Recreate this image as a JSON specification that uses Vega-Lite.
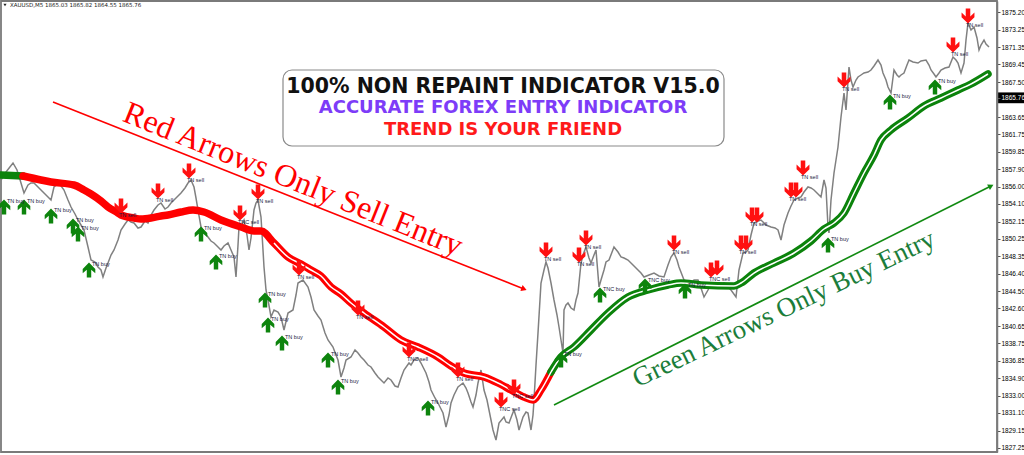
{
  "$schema": "https://vega.github.io/schema/vega-lite/v6.json",
  "width": 996,
  "height": 451,
  "autosize": {"type": "none"},
  "padding": {"left": 1, "top": 1, "right": 27, "bottom": 3},
  "background": "white",
  "config": {"view": {"stroke": "#7a7a7a", "strokeWidth": 1.8}, "font": "Liberation Sans"},
  "datasets": {
    "price": [{"x":0,"p":1856.72},{"x":5,"p":1857.60},{"x":12,"p":1858.59},{"x":16,"p":1857.82},{"x":20,"p":1856.39},{"x":23,"p":1855.29},{"x":27,"p":1856.17},{"x":30,"p":1856.39},{"x":33,"p":1856.39},{"x":38,"p":1855.84},{"x":43,"p":1855.29},{"x":47,"p":1854.85},{"x":50,"p":1854.52},{"x":53,"p":1855.95},{"x":58,"p":1856.39},{"x":63,"p":1855.62},{"x":67,"p":1854.52},{"x":70,"p":1853.75},{"x":74,"p":1852.98},{"x":77,"p":1852.32},{"x":80,"p":1851.77},{"x":83,"p":1851.22},{"x":87,"p":1849.35},{"x":90,"p":1847.92},{"x":94,"p":1847.70},{"x":97,"p":1847.15},{"x":100,"p":1846.82},{"x":102,"p":1846.05},{"x":105,"p":1847.04},{"x":107,"p":1847.59},{"x":110,"p":1848.47},{"x":113,"p":1849.02},{"x":117,"p":1850.12},{"x":120,"p":1851.22},{"x":124,"p":1851.88},{"x":127,"p":1852.32},{"x":130,"p":1852.10},{"x":133,"p":1851.99},{"x":137,"p":1851.44},{"x":140,"p":1851.55},{"x":144,"p":1852.21},{"x":147,"p":1851.99},{"x":150,"p":1852.87},{"x":153,"p":1853.42},{"x":157,"p":1853.97},{"x":160,"p":1854.19},{"x":164,"p":1853.53},{"x":167,"p":1853.75},{"x":170,"p":1854.19},{"x":173,"p":1854.52},{"x":177,"p":1854.96},{"x":180,"p":1855.29},{"x":184,"p":1855.84},{"x":187,"p":1856.39},{"x":190,"p":1856.72},{"x":193,"p":1855.95},{"x":195,"p":1854.74},{"x":197,"p":1853.42},{"x":200,"p":1851.55},{"x":203,"p":1851.00},{"x":207,"p":1850.45},{"x":210,"p":1850.01},{"x":213,"p":1849.79},{"x":217,"p":1849.35},{"x":220,"p":1849.02},{"x":223,"p":1849.46},{"x":227,"p":1849.79},{"x":230,"p":1849.02},{"x":233,"p":1848.25},{"x":235,"p":1846.05},{"x":237,"p":1849.57},{"x":238,"p":1851.55},{"x":241,"p":1851.88},{"x":243,"p":1852.32},{"x":246,"p":1850.67},{"x":248,"p":1849.02},{"x":250,"p":1850.34},{"x":253,"p":1853.42},{"x":255,"p":1854.19},{"x":257,"p":1854.52},{"x":260,"p":1852.65},{"x":262,"p":1849.02},{"x":263,"p":1847.15},{"x":265,"p":1844.62},{"x":267,"p":1843.52},{"x":270,"p":1841.65},{"x":273,"p":1842.42},{"x":277,"p":1842.20},{"x":280,"p":1841.65},{"x":283,"p":1840.22},{"x":287,"p":1842.09},{"x":292,"p":1842.42},{"x":295,"p":1844.07},{"x":297,"p":1845.39},{"x":302,"p":1845.72},{"x":307,"p":1844.95},{"x":310,"p":1843.85},{"x":313,"p":1842.42},{"x":317,"p":1841.76},{"x":320,"p":1841.32},{"x":324,"p":1839.89},{"x":327,"p":1839.12},{"x":332,"p":1838.35},{"x":335,"p":1837.47},{"x":337,"p":1836.92},{"x":340,"p":1835.05},{"x":343,"p":1836.04},{"x":345,"p":1836.92},{"x":350,"p":1837.25},{"x":354,"p":1838.02},{"x":357,"p":1837.69},{"x":360,"p":1837.25},{"x":363,"p":1836.92},{"x":367,"p":1836.37},{"x":370,"p":1836.15},{"x":374,"p":1835.49},{"x":377,"p":1835.05},{"x":380,"p":1834.72},{"x":383,"p":1834.39},{"x":387,"p":1834.94},{"x":390,"p":1834.72},{"x":394,"p":1834.06},{"x":397,"p":1833.95},{"x":400,"p":1834.94},{"x":403,"p":1835.82},{"x":408,"p":1836.59},{"x":410,"p":1836.37},{"x":413,"p":1836.92},{"x":417,"p":1837.14},{"x":420,"p":1836.59},{"x":425,"p":1835.49},{"x":428,"p":1834.50},{"x":430,"p":1833.62},{"x":434,"p":1832.74},{"x":437,"p":1832.19},{"x":442,"p":1831.09},{"x":445,"p":1829.55},{"x":448,"p":1830.87},{"x":450,"p":1832.19},{"x":453,"p":1833.07},{"x":457,"p":1833.95},{"x":462,"p":1834.39},{"x":465,"p":1833.84},{"x":467,"p":1833.29},{"x":470,"p":1832.30},{"x":472,"p":1831.75},{"x":475,"p":1833.07},{"x":477,"p":1834.39},{"x":480,"p":1835.82},{"x":483,"p":1833.62},{"x":486,"p":1832.52},{"x":488,"p":1831.42},{"x":492,"p":1829.22},{"x":495,"p":1828.12},{"x":498,"p":1829.99},{"x":503,"p":1830.65},{"x":505,"p":1830.10},{"x":508,"p":1829.99},{"x":511,"p":1830.87},{"x":513,"p":1831.42},{"x":516,"p":1830.32},{"x":518,"p":1829.22},{"x":522,"p":1830.65},{"x":525,"p":1831.20},{"x":527,"p":1831.09},{"x":530,"p":1829.22},{"x":532,"p":1830.87},{"x":533,"p":1832.52},{"x":535,"p":1836.37},{"x":537,"p":1839.89},{"x":540,"p":1845.39},{"x":543,"p":1846.82},{"x":545,"p":1847.70},{"x":547,"p":1847.04},{"x":550,"p":1845.39},{"x":553,"p":1843.52},{"x":556,"p":1841.87},{"x":558,"p":1840.55},{"x":560,"p":1839.12},{"x":562,"p":1837.69},{"x":563,"p":1842.42},{"x":565,"p":1842.97},{"x":567,"p":1843.19},{"x":570,"p":1842.64},{"x":573,"p":1842.42},{"x":575,"p":1843.52},{"x":577,"p":1844.29},{"x":580,"p":1847.59},{"x":582,"p":1848.47},{"x":585,"p":1849.35},{"x":588,"p":1848.14},{"x":590,"p":1847.59},{"x":593,"p":1848.47},{"x":595,"p":1849.02},{"x":598,"p":1844.95},{"x":600,"p":1845.72},{"x":603,"p":1846.82},{"x":605,"p":1847.70},{"x":608,"p":1847.92},{"x":613,"p":1849.35},{"x":617,"p":1848.80},{"x":620,"p":1848.25},{"x":623,"p":1848.14},{"x":627,"p":1847.92},{"x":632,"p":1847.37},{"x":637,"p":1846.82},{"x":640,"p":1846.49},{"x":643,"p":1846.05},{"x":648,"p":1846.27},{"x":653,"p":1846.49},{"x":658,"p":1846.16},{"x":663,"p":1846.05},{"x":667,"p":1847.37},{"x":670,"p":1848.25},{"x":673,"p":1848.69},{"x":676,"p":1847.92},{"x":678,"p":1847.15},{"x":683,"p":1845.72},{"x":687,"p":1845.50},{"x":690,"p":1845.39},{"x":693,"p":1845.72},{"x":697,"p":1845.72},{"x":700,"p":1844.84},{"x":703,"p":1843.85},{"x":707,"p":1844.62},{"x":710,"p":1845.39},{"x":713,"p":1845.06},{"x":717,"p":1844.95},{"x":720,"p":1845.17},{"x":723,"p":1845.39},{"x":727,"p":1844.95},{"x":730,"p":1844.62},{"x":735,"p":1843.85},{"x":738,"p":1846.82},{"x":742,"p":1848.69},{"x":745,"p":1848.80},{"x":747,"p":1849.02},{"x":750,"p":1850.67},{"x":753,"p":1851.99},{"x":757,"p":1852.21},{"x":760,"p":1852.32},{"x":765,"p":1851.77},{"x":770,"p":1851.55},{"x":774,"p":1851.44},{"x":777,"p":1851.22},{"x":780,"p":1850.12},{"x":783,"p":1851.77},{"x":787,"p":1853.09},{"x":790,"p":1853.86},{"x":793,"p":1854.52},{"x":797,"p":1854.74},{"x":800,"p":1854.85},{"x":803,"p":1855.40},{"x":807,"p":1855.95},{"x":810,"p":1855.84},{"x":813,"p":1855.62},{"x":817,"p":1855.18},{"x":820,"p":1854.85},{"x":823,"p":1856.72},{"x":825,"p":1855.84},{"x":827,"p":1851.55},{"x":828,"p":1850.89},{"x":830,"p":1854.52},{"x":833,"p":1857.49},{"x":835,"p":1858.92},{"x":837,"p":1860.35},{"x":840,"p":1863.65},{"x":843,"p":1866.29},{"x":845,"p":1864.42},{"x":848,"p":1869.15},{"x":850,"p":1867.72},{"x":852,"p":1866.95},{"x":855,"p":1867.72},{"x":857,"p":1868.05},{"x":860,"p":1868.27},{"x":863,"p":1868.49},{"x":867,"p":1868.60},{"x":870,"p":1868.82},{"x":873,"p":1869.26},{"x":877,"p":1869.92},{"x":880,"p":1869.37},{"x":882,"p":1868.49},{"x":885,"p":1867.72},{"x":887,"p":1866.95},{"x":890,"p":1866.29},{"x":893,"p":1868.82},{"x":896,"p":1868.27},{"x":898,"p":1868.05},{"x":900,"p":1868.27},{"x":903,"p":1868.49},{"x":906,"p":1869.37},{"x":908,"p":1869.92},{"x":912,"p":1869.70},{"x":917,"p":1869.59},{"x":920,"p":1869.81},{"x":925,"p":1869.92},{"x":928,"p":1869.37},{"x":930,"p":1868.82},{"x":933,"p":1868.38},{"x":935,"p":1868.05},{"x":938,"p":1868.49},{"x":940,"p":1868.82},{"x":944,"p":1869.04},{"x":948,"p":1869.15},{"x":952,"p":1870.25},{"x":955,"p":1869.92},{"x":957,"p":1869.59},{"x":960,"p":1868.49},{"x":963,"p":1869.59},{"x":965,"p":1872.12},{"x":967,"p":1873.99},{"x":970,"p":1873.22},{"x":973,"p":1873.55},{"x":976,"p":1872.34},{"x":978,"p":1871.02},{"x":980,"p":1871.57},{"x":983,"p":1872.12},{"x":985,"p":1871.68},{"x":988,"p":1871.35}],
    "ind": [{"x":0,"p":1857.27,"seg":"g1"},{"x":22,"p":1857.16,"seg":"g1"},
      {"x":22,"p":1857.16,"seg":"r"},{"x":40,"p":1856.72,"seg":"r"},{"x":50,"p":1856.50,"seg":"r"},{"x":73,"p":1856.17,"seg":"r"},{"x":83,"p":1855.62,"seg":"r"},{"x":90,"p":1855.18,"seg":"r"},{"x":100,"p":1854.41,"seg":"r"},{"x":107,"p":1853.75,"seg":"r"},{"x":117,"p":1853.09,"seg":"r"},{"x":120,"p":1852.87,"seg":"r"},{"x":133,"p":1852.54,"seg":"r"},{"x":140,"p":1852.43,"seg":"r"},{"x":150,"p":1852.54,"seg":"r"},{"x":160,"p":1852.76,"seg":"r"},{"x":167,"p":1852.87,"seg":"r"},{"x":180,"p":1853.20,"seg":"r"},{"x":192,"p":1853.42,"seg":"r"},{"x":203,"p":1853.20,"seg":"r"},{"x":220,"p":1852.32,"seg":"r"},{"x":240,"p":1851.55,"seg":"r"},{"x":253,"p":1851.11,"seg":"r"},{"x":260,"p":1851.11,"seg":"r"},{"x":273,"p":1849.79,"seg":"r"},{"x":287,"p":1848.25,"seg":"r"},{"x":300,"p":1847.48,"seg":"r"},{"x":310,"p":1846.82,"seg":"r"},{"x":320,"p":1846.16,"seg":"r"},{"x":330,"p":1844.95,"seg":"r"},{"x":340,"p":1844.18,"seg":"r"},{"x":350,"p":1843.19,"seg":"r"},{"x":363,"p":1842.09,"seg":"r"},{"x":383,"p":1840.55,"seg":"r"},{"x":400,"p":1839.12,"seg":"r"},{"x":417,"p":1838.35,"seg":"r"},{"x":437,"p":1837.25,"seg":"r"},{"x":450,"p":1836.26,"seg":"r"},{"x":463,"p":1835.49,"seg":"r"},{"x":483,"p":1835.05,"seg":"r"},{"x":497,"p":1834.39,"seg":"r"},{"x":510,"p":1833.62,"seg":"r"},{"x":523,"p":1832.85,"seg":"r"},{"x":532,"p":1832.52,"seg":"r"},{"x":540,"p":1833.62,"seg":"r"},{"x":550,"p":1835.60,"seg":"r"},
      {"x":550,"p":1835.60,"seg":"g2"},{"x":560,"p":1837.25,"seg":"g2"},{"x":573,"p":1838.35,"seg":"g2"},{"x":590,"p":1840.22,"seg":"g2"},{"x":607,"p":1842.09,"seg":"g2"},{"x":627,"p":1843.85,"seg":"g2"},{"x":647,"p":1844.62,"seg":"g2"},{"x":667,"p":1845.17,"seg":"g2"},{"x":680,"p":1845.39,"seg":"g2"},{"x":700,"p":1845.17,"seg":"g2"},{"x":733,"p":1845.06,"seg":"g2"},{"x":740,"p":1845.39,"seg":"g2"},{"x":753,"p":1846.49,"seg":"g2"},{"x":773,"p":1847.59,"seg":"g2"},{"x":793,"p":1848.69,"seg":"g2"},{"x":810,"p":1850.01,"seg":"g2"},{"x":823,"p":1851.33,"seg":"g2"},{"x":833,"p":1851.99,"seg":"g2"},{"x":843,"p":1853.09,"seg":"g2"},{"x":853,"p":1855.29,"seg":"g2"},{"x":863,"p":1857.49,"seg":"g2"},{"x":873,"p":1859.47,"seg":"g2"},{"x":880,"p":1861.12,"seg":"g2"},{"x":890,"p":1862.22,"seg":"g2"},{"x":907,"p":1863.54,"seg":"g2"},{"x":923,"p":1864.86,"seg":"g2"},{"x":940,"p":1865.74,"seg":"g2"},{"x":957,"p":1866.62,"seg":"g2"},{"x":970,"p":1867.28,"seg":"g2"},{"x":987,"p":1868.38,"seg":"g2"}],
    "arrows": [{"x":120,"p":1853.86,"d":"sell","l":"TN sell"},{"x":157,"p":1855.51,"d":"sell","l":"TN sell"},{"x":188,"p":1857.71,"d":"sell","l":"TN sell"},{"x":239,"p":1853.09,"d":"sell","l":"TNC sell"},{"x":257,"p":1855.40,"d":"sell","l":"TN sell"},{"x":298,"p":1847.04,"d":"sell","l":"TN sell"},{"x":357,"p":1842.64,"d":"sell","l":"TN sell"},{"x":408,"p":1838.02,"d":"sell","l":"TNC sell"},{"x":457,"p":1835.82,"d":"sell","l":"TN sell"},{"x":500,"p":1832.52,"d":"sell","l":"TNC sell"},{"x":513,"p":1833.95,"d":"sell","l":"TNC sell"},{"x":545,"p":1849.02,"d":"sell","l":"TN sell"},{"x":578,"p":1848.47,"d":"sell","l":"TN sell"},{"x":585,"p":1850.34,"d":"sell","l":"TN sell"},{"x":673,"p":1849.79,"d":"sell","l":"TN sell"},{"x":710,"p":1846.82,"d":"sell","l":"TNC sell"},{"x":716,"p":1847.04,"d":"sell","l":""},{"x":740,"p":1849.79,"d":"sell","l":"TN sell"},{"x":745,"p":1849.79,"d":"sell","l":""},{"x":751,"p":1852.87,"d":"sell","l":"TN sell"},{"x":756,"p":1852.87,"d":"sell","l":""},{"x":790,"p":1855.62,"d":"sell","l":"TN sell"},{"x":795,"p":1855.62,"d":"sell","l":""},{"x":802,"p":1858.04,"d":"sell","l":"TN sell"},{"x":843,"p":1867.72,"d":"sell","l":"TN sell"},{"x":952,"p":1871.57,"d":"sell","l":"TN sell"},{"x":967,"p":1874.76,"d":"sell","l":"TN sell"},
      {"x":3,"p":1853.75,"d":"buy","l":"TN buy"},{"x":23,"p":1853.75,"d":"buy","l":"TN buy"},{"x":50,"p":1852.76,"d":"buy","l":"TN buy"},{"x":72,"p":1851.66,"d":"buy","l":"TN buy"},{"x":77,"p":1850.78,"d":"buy","l":"TN buy"},{"x":88,"p":1846.82,"d":"buy","l":"TN buy"},{"x":200,"p":1850.78,"d":"buy","l":"TN buy"},{"x":215,"p":1847.70,"d":"buy","l":"TN buy"},{"x":264,"p":1843.52,"d":"buy","l":"TN buy"},{"x":267,"p":1840.77,"d":"buy","l":"TN buy"},{"x":281,"p":1838.79,"d":"buy","l":"TN buy"},{"x":327,"p":1836.92,"d":"buy","l":"TN buy"},{"x":337,"p":1833.95,"d":"buy","l":"TN buy"},{"x":427,"p":1831.64,"d":"buy","l":"TN buy"},{"x":560,"p":1836.92,"d":"buy","l":"TN buy"},{"x":599,"p":1844.07,"d":"buy","l":"TNC buy"},{"x":644,"p":1845.06,"d":"buy","l":"TNC buy"},{"x":684,"p":1844.51,"d":"buy","l":"TN buy"},{"x":827,"p":1849.57,"d":"buy","l":"TN buy"},{"x":889,"p":1865.30,"d":"buy","l":"TN buy"},{"x":934,"p":1866.95,"d":"buy","l":"TN buy"}],
    "notes": [{"k":"red","x":52,"p":1865.30,"x2":523,"p2":1844.73},{"k":"green","x":553,"p":1831.97,"x2":990,"p2":1856.06}],
    "titles": [{"k":"a","x":502,"p":1866.95,"t":"100% NON REPAINT INDICATOR V15.0"},{"k":"b","x":502,"p":1864.64,"t":"ACCURATE FOREX ENTRY INDICATOR"},{"k":"c","x":502,"p":1862.22,"t":"TREND IS YOUR FRIEND"},{"k":"red","x":292,"p":1856.80,"t":"Red Arrows Only Sell Entry"},{"k":"green","x":783,"p":1842.53,"t":"Green Arrows Only Buy Entry"},{"k":"hdr","x":9,"p":1875.97,"t":"XAUUSD,M5  1865.03 1865.82 1864.55 1865.76"}]
  },
  "encoding": {
    "x": {"field": "x", "type": "quantitative", "scale": {"domain": [0, 996], "nice": false, "zero": false}, "axis": null},
    "y": {"field": "p", "type": "quantitative", "scale": {"domain": [1826.80, 1876.41], "nice": false, "zero": false},
      "axis": {"orient": "right", "title": null, "values": [1875.20,1873.25,1871.35,1869.45,1867.50,1865.76,1863.65,1861.75,1859.85,1857.90,1856.00,1854.10,1852.15,1850.25,1848.35,1846.40,1844.50,1842.60,1840.65,1838.75,1836.85,1834.90,1833.00,1831.10,1829.15,1827.25],
        "format": ".2f", "labelFontSize": 6.5, "labelFont": "Liberation Sans", "labelPadding": 1, "tickSize": 3, "tickColor": "#555", "domainColor": "#7a7a7a", "domainWidth": 1.5, "grid": false, "labelOverlap": false, "labelBound": false, "zindex": 1,
        "labelColor": {"condition": {"test": "datum.value === 1865.76", "value": "white"}, "value": "black"}}}
  },
  "layer": [
    {"data": {"name": "price"}, "mark": {"type": "line", "color": "#808080", "strokeWidth": 1.5}},
    {"data": {"name": "ind"}, "mark": {"type": "line", "strokeWidth": 7.5, "interpolate": "monotone", "strokeCap": "round"},
      "encoding": {"color": {"field": "seg", "type": "nominal", "scale": {"domain": ["g1", "r", "g2"], "range": ["#0b830b", "#ff0000", "#0b830b"]}, "legend": null}}},
    {"data": {"name": "ind"}, "transform": [{"filter": "datum.seg !== 'g1' && (datum.seg !== 'r' || datum.x >= 262)"}],
      "mark": {"type": "line", "strokeWidth": 1.5, "color": "white", "interpolate": "monotone"},
      "encoding": {"detail": {"field": "seg"}}},
    {"data": {"name": "arrows"}, "transform": [{"filter": "datum.d === 'sell'"}],
      "mark": {"type": "point", "shape": "M-0.3,-1L0.3,-1L0.3,0.05L0.85,-0.45L0.85,0.15L0,1L-0.85,0.15L-0.85,-0.45L-0.3,0.05Z", "filled": true, "size": 230, "color": "#ff1010", "opacity": 1}},
    {"data": {"name": "arrows"}, "transform": [{"filter": "datum.d === 'buy'"}],
      "mark": {"type": "point", "shape": "M-0.3,1L0.3,1L0.3,-0.05L0.85,0.45L0.85,-0.15L0,-1L-0.85,-0.15L-0.85,0.45L-0.3,-0.05Z", "filled": true, "size": 220, "color": "#0d840d", "opacity": 1}},
    {"data": {"name": "arrows"}, "transform": [{"filter": "datum.d === 'sell'"}],
      "mark": {"type": "text", "align": "left", "baseline": "top", "dx": -2, "dy": 7, "fontSize": 5.5, "color": "#1a1a40"},
      "encoding": {"text": {"field": "l"}}},
    {"data": {"name": "arrows"}, "transform": [{"filter": "datum.d === 'buy'"}],
      "mark": {"type": "text", "align": "left", "baseline": "middle", "dx": 3, "dy": -6, "fontSize": 5.5, "color": "#1a1a40"},
      "encoding": {"text": {"field": "l"}}},
    {"data": {"name": "notes"}, "transform": [{"filter": "datum.k === 'red'"}],
      "mark": {"type": "rule", "color": "#ff0000", "strokeWidth": 1.6},
      "encoding": {"x2": {"field": "x2"}, "y2": {"field": "p2"}}},
    {"data": {"name": "notes"}, "transform": [{"filter": "datum.k === 'green'"}],
      "mark": {"type": "rule", "color": "#118a11", "strokeWidth": 1.6},
      "encoding": {"x2": {"field": "x2"}, "y2": {"field": "p2"}}},
    {"data": {"name": "notes"}, "transform": [{"filter": "datum.k === 'red'"}],
      "mark": {"type": "point", "shape": "triangle-right", "filled": true, "size": 40, "angle": 21.6, "color": "#ff0000", "opacity": 1},
      "encoding": {"x": {"field": "x2", "type": "quantitative"}, "y": {"field": "p2", "type": "quantitative"}}},
    {"data": {"name": "notes"}, "transform": [{"filter": "datum.k === 'green'"}],
      "mark": {"type": "point", "shape": "triangle-right", "filled": true, "size": 40, "angle": 333.4, "color": "#118a11", "opacity": 1},
      "encoding": {"x": {"field": "x2", "type": "quantitative"}, "y": {"field": "p2", "type": "quantitative"}}},
    {"data": {"name": "titles"}, "transform": [{"filter": "datum.k === 'red'"}],
      "mark": {"type": "text", "font": "Liberation Serif", "fontSize": 32, "angle": 22, "color": "#ff0000", "align": "center", "baseline": "middle"},
      "encoding": {"text": {"field": "t"}}},
    {"data": {"name": "titles"}, "transform": [{"filter": "datum.k === 'green'"}],
      "mark": {"type": "text", "font": "Liberation Serif", "fontSize": 27, "angle": 334.5, "color": "#1b7d3a", "align": "center", "baseline": "middle"},
      "encoding": {"text": {"field": "t"}}},
    {"data": {"values": [{"x": 282, "x2": 723, "p": 1868.82, "p2": 1860.46}]},
      "mark": {"type": "rect", "fill": "white", "stroke": "#8a8a8a", "strokeWidth": 1.2, "cornerRadius": 9},
      "encoding": {"x2": {"field": "x2"}, "y2": {"field": "p2"}}},
    {"data": {"name": "titles"}, "transform": [{"filter": "datum.k === 'a'"}],
      "mark": {"type": "text", "font": "DejaVu Sans", "fontWeight": "bold", "fontSize": 20.5, "color": "#111111", "align": "center", "baseline": "middle"},
      "encoding": {"text": {"field": "t"}}},
    {"data": {"name": "titles"}, "transform": [{"filter": "datum.k === 'b'"}],
      "mark": {"type": "text", "font": "DejaVu Sans", "fontWeight": "bold", "fontSize": 18, "color": "#7d3cf8", "align": "center", "baseline": "middle"},
      "encoding": {"text": {"field": "t"}}},
    {"data": {"name": "titles"}, "transform": [{"filter": "datum.k === 'c'"}],
      "mark": {"type": "text", "font": "DejaVu Sans", "fontWeight": "bold", "fontSize": 18, "color": "#ff1a1a", "align": "center", "baseline": "middle"},
      "encoding": {"text": {"field": "t"}}},
    {"data": {"name": "titles"}, "transform": [{"filter": "datum.k === 'hdr'"}],
      "mark": {"type": "text", "font": "DejaVu Sans", "fontSize": 5.5, "color": "#222222", "align": "left", "baseline": "middle"},
      "encoding": {"text": {"field": "t"}}},
    {"data": {"values": [{"x": 4, "p": 1875.97}]},
      "mark": {"type": "point", "shape": "triangle-down", "filled": true, "size": 10, "color": "#222222", "opacity": 1}},
    {"data": {"values": [{"x": 996, "p": 1865.76}]},
      "mark": {"type": "point", "shape": "M0,-0.2L1,-0.2L1,0.2L0,0.2Z", "filled": true, "size": 2916, "color": "black", "opacity": 1, "clip": false}}
  ]
}
